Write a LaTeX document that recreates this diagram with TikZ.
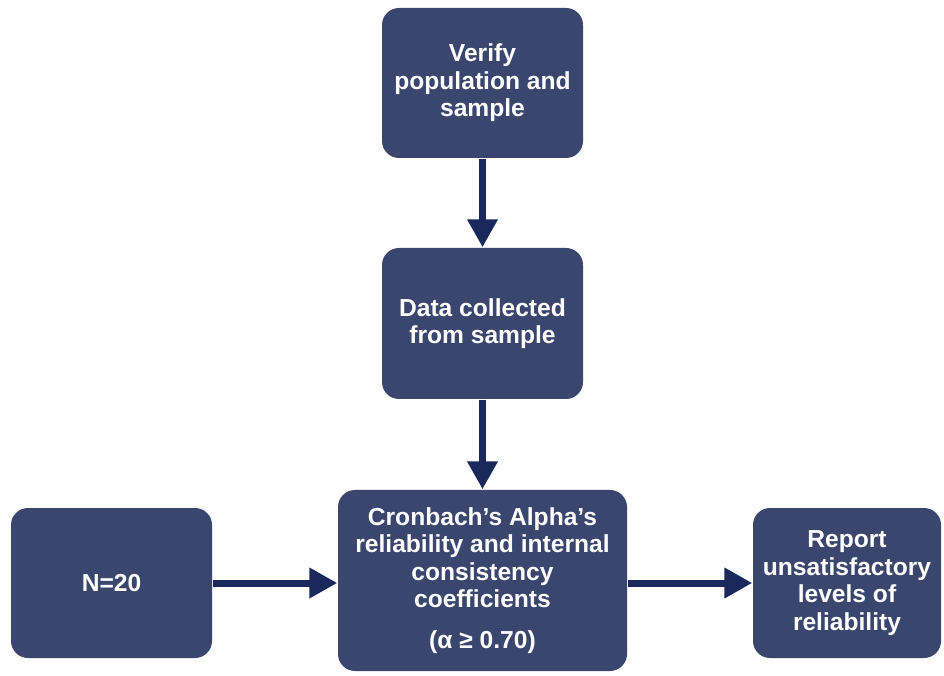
\documentclass[tikz,border=0pt]{standalone}
\usepackage{fontspec}
\setmainfont{Liberation Sans}
\usetikzlibrary{arrows.meta}
\definecolor{boxblue}{RGB}{59,70,111}
\definecolor{arrowblue}{RGB}{27,40,92}
\begin{document}
\begin{tikzpicture}[box/.style={fill=boxblue, rounded corners=0.17cm, text=white, align=center, inner sep=0pt, font=\fontsize{7.0}{7.8}\selectfont\bfseries},
  flow/.style={draw=arrowblue, line width=0.07cm, -{Triangle[width=0.29cm,length=0.28cm]}}]
\useasboundingbox (0,0) rectangle (9.44,6.75);
\node[box, minimum width=2.01cm, minimum height=1.5cm] (F1N0) at (4.825,5.92) {Verify\\population and\\sample};
\node[box, minimum width=2.01cm, minimum height=1.51cm] (F1N1) at (4.825,3.515) {Data collected\\from sample};
\node[box, minimum width=2.89cm, minimum height=1.81cm] (F1N2) at (4.825,0.945) {Cronbach's Alpha's\\reliability and internal\\consistency\\coefficients\\[1.3mm](α ≥ 0.70)};
\node[box, minimum width=2.01cm, minimum height=1.5cm] (F1N3) at (1.115,0.92) {N=20};
\node[box, minimum width=1.88cm, minimum height=1.5cm] (F1N4) at (8.47,0.92) {Report\\unsatisfactory\\levels of\\reliability};
\draw[flow] (F1N0) -- (F1N1);
\draw[flow] (F1N1) -- (F1N2);
\draw[flow] (F1N3.east) -- (F1N3.east -| F1N2.west);
\draw[flow] (F1N2.east |- F1N4.west) -- (F1N4.west);
\end{tikzpicture}
\end{document}
